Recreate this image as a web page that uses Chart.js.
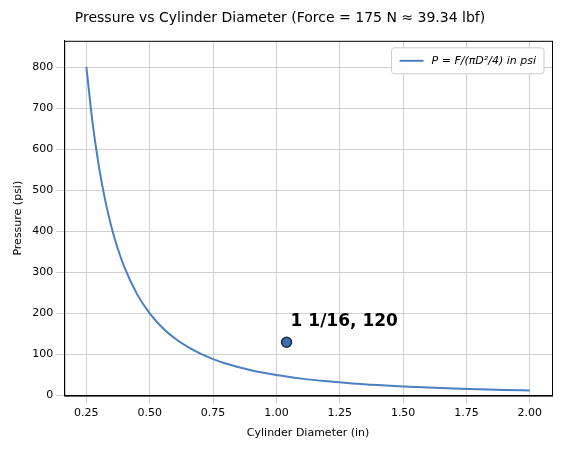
<!DOCTYPE html>
<html>
<head>
<meta charset="utf-8">
<script src="https://cdn.jsdelivr.net/npm/chart.js@4"></script>
<style>
  body { margin: 0; background: #fff; }
  #c { display: block; }
</style>
</head>
<body>
<canvas id="c" width="568" height="450"></canvas>
<script>
// values
const diameters = [0.25, 0.275, 0.3, 0.325, 0.35, 0.375, 0.4, 0.45, 0.5, 0.55, 0.6, 0.65, 0.7, 0.75, 0.8, 0.9, 1.0, 1.1, 1.2, 1.3, 1.4, 1.5, 1.6, 1.7, 1.8, 1.9, 2.0];
const pressures = [801.4, 662.3, 556.5, 474.2, 408.9, 356.2, 313.1, 247.4, 200.4, 165.6, 139.1, 118.6, 102.2, 89.0, 78.3, 61.8, 50.1, 41.4, 34.8, 29.6, 25.6, 22.3, 19.6, 17.3, 15.5, 13.9, 12.5];
const markX = [1.04];
const markY = [130];
const markLabel = "1 1/16, 120";
const xTicks = [0.25, 0.5, 0.75, 1.0, 1.25, 1.5, 1.75, 2.0];
const yTicks = [0, 100, 200, 300, 400, 500, 600, 700, 800];
const legendText = "P = F/(πD²/4) in psi";

// frame, legend box and point label
const extras = {
  id: "extras",
  afterDatasetsDraw(chart) {
    const ctx = chart.ctx;
    const a = chart.chartArea;
    ctx.save();
    ctx.strokeStyle = "#000";
    ctx.lineWidth = 1;
    ctx.strokeRect(a.left + 0.5, a.top + 0.5, a.right - a.left, a.bottom - a.top);

    ctx.font = "italic 11px 'DejaVu Sans'";
    const w = ctx.measureText(legendText).width + 48;
    const bx = a.right - w - 8, by = a.top + 7;
    ctx.fillStyle = "rgba(255,255,255,0.9)";
    ctx.strokeStyle = "#ccc";
    ctx.beginPath();
    ctx.roundRect(bx, by, w, 26, 3);
    ctx.fill(); ctx.stroke();
    ctx.strokeStyle = "#4a7fc0";
    ctx.lineWidth = 2;
    ctx.beginPath();
    ctx.moveTo(bx + 8, by + 13); ctx.lineTo(bx + 32, by + 13); ctx.stroke();
    ctx.fillStyle = "#000";
    ctx.textBaseline = "middle";
    ctx.fillText(legendText, bx + 40, by + 13);

    const p = chart.getDatasetMeta(1).data[0];
    ctx.font = "bold 17px 'DejaVu Sans'";
    ctx.textBaseline = "bottom";
    ctx.fillText(markLabel, p.x + 4, p.y - 12);
    ctx.restore();
  }
};

new Chart(document.getElementById("c"), {
  type: "scatter",
  data: {
    datasets: [
      {
        label: legendText,
        data: diameters.map((d, i) => ({ x: d, y: pressures[i] })),
        showLine: true,
        borderColor: "#4a7fc0",
        borderWidth: 2,
        pointRadius: 0,
        cubicInterpolationMode: "monotone"
      },
      {
        label: "mark",
        data: markX.map((x, i) => ({ x: x, y: markY[i] })),
        pointRadius: 5,
        backgroundColor: "#3f6fb0",
        borderColor: "#1a2a40",
        borderWidth: 1.5
      }
    ]
  },
  options: {
    responsive: false,
    animation: false,
    layout: { padding: { left: 8, right: 16, top: 4, bottom: 6 } },
    plugins: {
      title: {
        display: true,
        text: "Pressure vs Cylinder Diameter (Force = 175 N ≈ 39.34 lbf)",
        color: "#000",
        font: { size: 14, family: "DejaVu Sans", weight: "normal" },
        padding: { top: 6, bottom: 14 }
      },
      legend: { display: false },
      tooltip: { enabled: false }
    },
    scales: {
      x: {
        type: "linear",
        min: 0.1625,
        max: 2.0875,
        afterBuildTicks: axis => { axis.ticks = xTicks.map(v => ({ value: v })); },
        ticks: { color: "#000", font: { size: 11, family: "DejaVu Sans" }, callback: v => v.toFixed(2) },
        grid: { color: "#d0d0d0" },
        border: { color: "#000" },
        title: { display: true, text: "Cylinder Diameter (in)", color: "#000", font: { size: 11, family: "DejaVu Sans" } }
      },
      y: {
        min: 0,
        max: 865,
        afterBuildTicks: axis => { axis.ticks = yTicks.map(v => ({ value: v })); },
        ticks: { color: "#000", font: { size: 11, family: "DejaVu Sans" } },
        grid: { color: "#d0d0d0" },
        border: { color: "#000" },
        title: { display: true, text: "Pressure (psi)", color: "#000", font: { size: 11, family: "DejaVu Sans" } }
      }
    }
  },
  plugins: [extras]
});
</script>
</body>
</html>
